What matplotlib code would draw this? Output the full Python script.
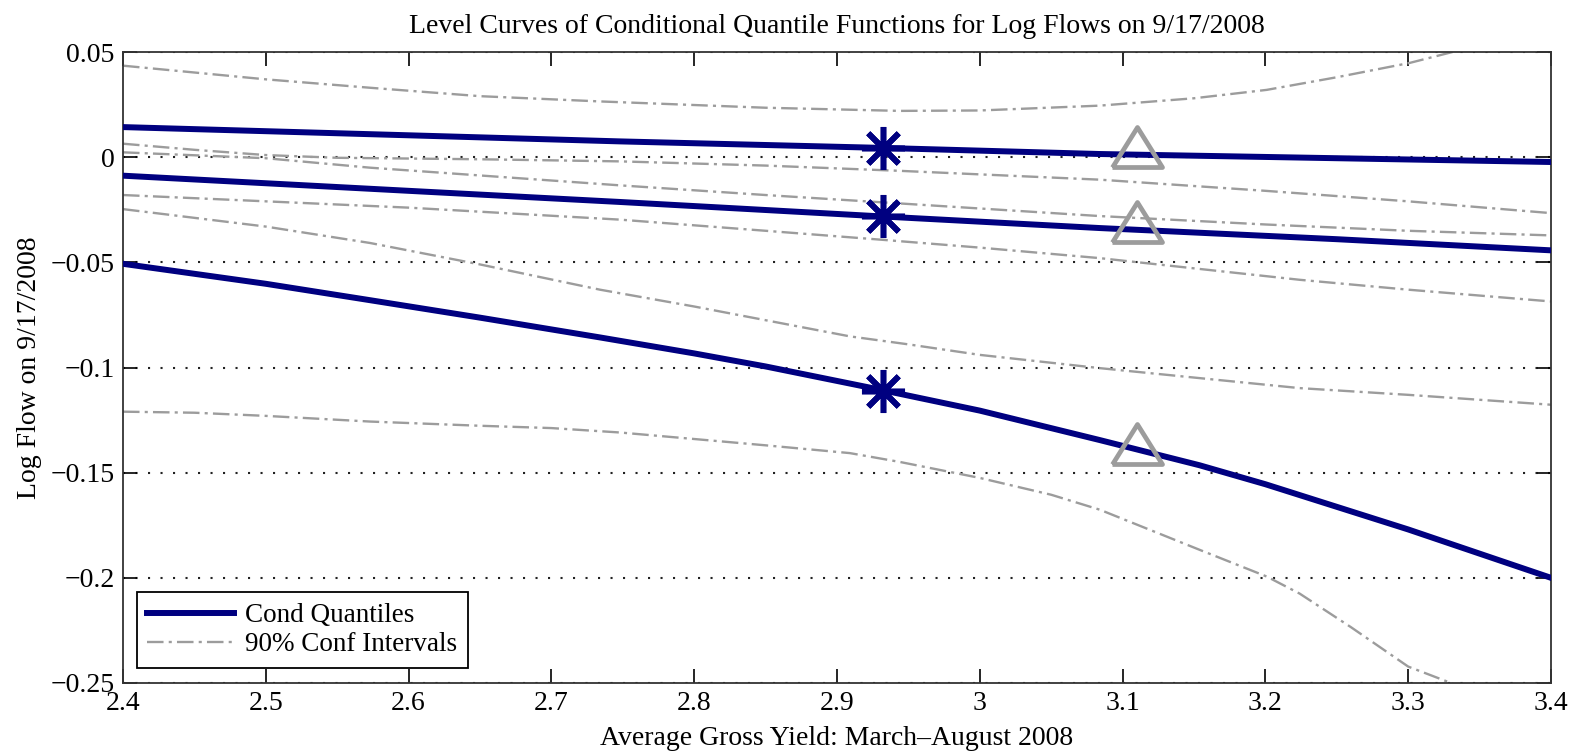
import numpy as np
import matplotlib
matplotlib.use("Agg")
import matplotlib.pyplot as plt
from matplotlib.ticker import FuncFormatter

plt.rcParams['font.family'] = ['Liberation Serif', 'DejaVu Serif']

# conditional quantile curves (blue)
q_hi_x = [2.4, 2.6, 2.748, 2.932, 3.084, 3.25, 3.4]
q_hi_y = [0.0143, 0.0104, 0.0075, 0.0044, 0.0015, -0.0005, -0.0023]

q_mid_x = [2.4, 2.6, 2.748, 2.932, 3.084, 3.25, 3.4]
q_mid_y = [-0.0088, -0.016, -0.0213, -0.0282, -0.0337, -0.039, -0.0443]

q_lo_x = [2.4, 2.5, 2.573, 2.65, 2.734, 2.8, 2.85, 2.932, 3.0, 3.084, 3.154, 3.2, 3.3, 3.4]
q_lo_y = [-0.0507, -0.0602, -0.0680, -0.0763, -0.0857, -0.0933, -0.0995, -0.1108,
          -0.1205, -0.1345, -0.1465, -0.1555, -0.177, -0.200]

# 90% confidence bands (grey)
ci1_x = [2.4, 2.5, 2.573, 2.65, 2.734, 2.85, 2.944, 3.0, 3.084, 3.15, 3.201, 3.25, 3.301, 3.331, 3.4]
ci1_y = [0.0435, 0.037, 0.033, 0.029, 0.0265, 0.0235, 0.022, 0.0222, 0.0245,
         0.028, 0.032, 0.038, 0.0448, 0.050, 0.065]

ci2_x = [2.4, 2.45, 2.5, 2.55, 2.65, 2.748, 2.85, 2.944, 3.084, 3.2, 3.3, 3.4]
ci2_y = [0.0064, 0.0035, 0.001, -0.0003, -0.001, -0.002, -0.004, -0.0065,
         -0.0107, -0.016, -0.021, -0.0266]

ci3_x = [2.4, 2.5, 2.573, 2.748, 2.85, 2.944, 3.084, 3.2, 3.3, 3.4]
ci3_y = [0.0023, -0.0005, -0.005, -0.0134, -0.018, -0.022, -0.028, -0.032,
         -0.035, -0.0372]

ci4_x = [2.4, 2.5, 2.6, 2.748, 2.85, 2.932, 3.0, 3.084, 3.224, 3.3, 3.4]
ci4_y = [-0.018, -0.021, -0.024, -0.0297, -0.035, -0.0393, -0.043, -0.048,
         -0.0583, -0.063, -0.0686]

ci5_x = [2.4, 2.5, 2.573, 2.65, 2.734, 2.8, 2.909, 2.95, 3.0, 3.084, 3.224, 3.3, 3.4]
ci5_y = [-0.0247, -0.033, -0.0408, -0.051, -0.063, -0.071, -0.0852, -0.089,
         -0.094, -0.1003, -0.1098, -0.113, -0.1177]

ci6_x = [2.4, 2.45, 2.5, 2.573, 2.65, 2.7, 2.748, 2.8, 2.85, 2.909, 2.944, 3.0,
         3.05, 3.084, 3.154, 3.201, 3.224, 3.26, 3.3, 3.33, 3.4]
ci6_y = [-0.121, -0.1215, -0.123, -0.1257, -0.1277, -0.1288, -0.1309, -0.134,
         -0.137, -0.1407, -0.1449, -0.1525, -0.1605, -0.1676, -0.1867, -0.1994,
         -0.2075, -0.2235, -0.2422, -0.250, -0.275]

# markers
star_x = [2.932, 2.932, 2.932]
star_y = [0.0044, -0.0282, -0.1110]
tri_x = [3.11, 3.11, 3.11]
tri_y = [0.0047, -0.0309, -0.1363]

x_ticks = [2.4, 2.5, 2.6, 2.7, 2.8, 2.9, 3.0, 3.1, 3.2, 3.3, 3.4]
y_ticks = [0.05, 0, -0.05, -0.1, -0.15, -0.2, -0.25]

navy = '#000080'
grey = '#9c9c9c'
dashdot = (0, (7.0, 2.2, 1.3, 2.2))

fig = plt.figure(figsize=(15.81, 7.52), dpi=100)
ax = fig.add_axes([123 / 1581, 1 - 683 / 752, 1428 / 1581, 631 / 752])

ax.plot(q_hi_x, q_hi_y, color=navy, lw=4.3, label='Cond Quantiles', zorder=3)
ax.plot(q_mid_x, q_mid_y, color=navy, lw=4.3, zorder=3)
ax.plot(q_lo_x, q_lo_y, color=navy, lw=4.3, zorder=3)

ci_all = [(ci1_x, ci1_y), (ci2_x, ci2_y), (ci3_x, ci3_y),
          (ci4_x, ci4_y), (ci5_x, ci5_y), (ci6_x, ci6_y)]
for i, (cx, cy) in enumerate(ci_all):
    ax.plot(cx, cy, color=grey, lw=1.7, linestyle=dashdot,
            label='90% Conf Intervals' if i == 0 else None, zorder=2)

ax.plot(star_x, star_y, linestyle='none', marker=(8, 2, 0), markersize=31,
        markeredgewidth=4.0, color=navy, zorder=4)
tri = [(-1, -0.8), (1, -0.8), (0, 0.8), (-1, -0.8)]
ax.plot(tri_x, tri_y, linestyle='none', marker=tri, markersize=36,
        markeredgewidth=3.4, markerfacecolor='none', markeredgecolor=grey, zorder=4)

ax.set_xlim(2.4, 3.4)
ax.set_ylim(-0.25, 0.05)
ax.set_xticks(x_ticks)
ax.set_yticks(y_ticks)
ax.xaxis.set_major_formatter(FuncFormatter(lambda v, p: '%g' % round(v, 2)))
ax.yaxis.set_major_formatter(FuncFormatter(lambda v, p: ('%g' % round(v, 3)).replace('-', '\u2212')))
ax.tick_params(direction='in', top=True, right=True, length=10, width=1.2,
               labelsize=20, pad=6)
ax.yaxis.grid(True, linestyle=(0, (1, 5)), color='#222222', lw=1.5)
for s in ax.spines.values():
    s.set_linewidth(1.3)
    s.set_color('#333333')

ax.set_title('Level Curves of Conditional Quantile Functions for Log Flows on 9/17/2008',
             fontsize=20, pad=14)
ax.set_xlabel('Average Gross Yield: March\u2013August 2008', fontsize=20, labelpad=7)
ax.set_ylabel('Log Flow on 9/17/2008', fontsize=20, labelpad=6)

leg = ax.legend(loc='lower left', bbox_to_anchor=(0.0095, 0.0238), borderaxespad=0,
                fontsize=19.5, fancybox=False, edgecolor='black', framealpha=1,
                handlelength=3.2, handletextpad=0.4, labelspacing=0.15,
                borderpad=0.4)
leg.get_frame().set_linewidth(1.3)

fig.savefig('out.png', dpi=100)
